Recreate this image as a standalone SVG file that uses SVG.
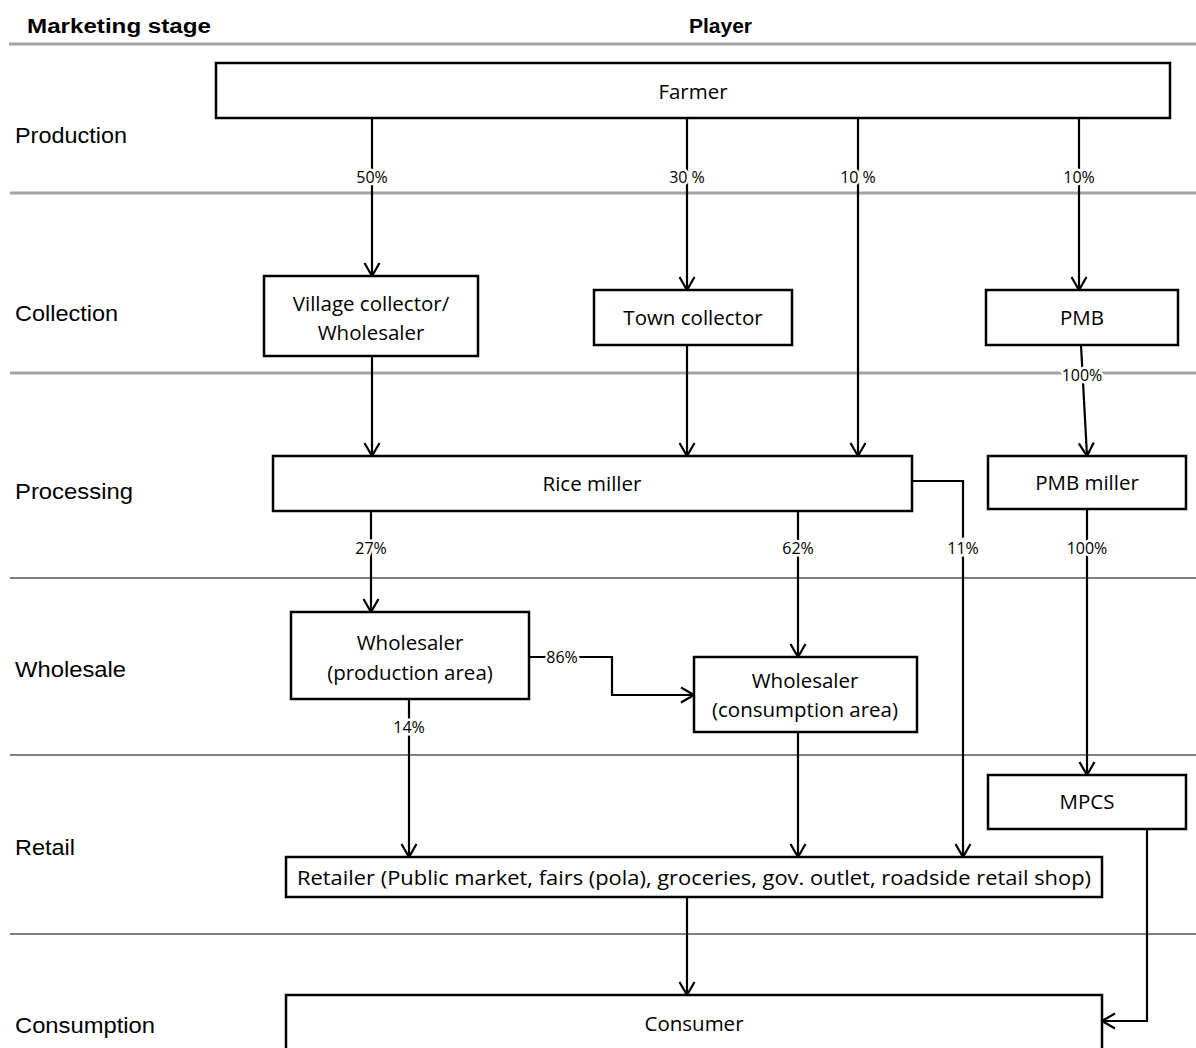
<svg xmlns="http://www.w3.org/2000/svg" width="1196" height="1048" viewBox="0 0 1196 1048">
  <defs>
    <marker id="arrow" markerUnits="userSpaceOnUse" markerWidth="20" markerHeight="20" refX="10" refY="10" orient="auto" overflow="visible">
      <path d="M -3 2.5 L 10 10 L -3 17.5" fill="none" stroke="#000" stroke-width="2.2"/>
    </marker>
  </defs>
  <style>
    .stage { font-family: "Liberation Sans", Arial, sans-serif; font-size: 22px; fill: #000; }
    .head { font-family: "Liberation Sans", Arial, sans-serif; font-size: 20px; font-weight: bold; fill: #000; }
    .box { fill: #fff; stroke: #000; stroke-width: 2.5; }
    .lbl { font-family: "Open Sans", "Liberation Sans", sans-serif; font-size: 20.5px; fill: #000; text-anchor: middle; }
    .pct { font-family: "Open Sans", "Liberation Sans", sans-serif; font-size: 16px; fill: #000; text-anchor: middle; stroke: #fff; stroke-width: 5; paint-order: stroke; }
    .sepA { stroke: #a3a3a3; stroke-width: 3; }
    .sepB { stroke: #808080; stroke-width: 2; }
    .conn { fill: none; stroke: #000; stroke-width: 2.2; }
  </style>
  <rect width="1196" height="1048" fill="#fff"/>

  <!-- header and stage bands -->
  <g id="stages">
    <text class="head" x="27" y="33" textLength="184" lengthAdjust="spacingAndGlyphs">Marketing stage</text>
    <text class="head" x="689" y="33" textLength="63" lengthAdjust="spacingAndGlyphs">Player</text>
    <line class="sepA" x1="9" y1="44" x2="1196" y2="44"/>
    <line class="sepA" x1="10" y1="193" x2="1196" y2="193"/>
    <line class="sepA" x1="10" y1="373" x2="1196" y2="373"/>
    <line class="sepB" x1="10" y1="578" x2="1196" y2="578"/>
    <line class="sepB" x1="10" y1="755" x2="1196" y2="755"/>
    <line class="sepB" x1="10" y1="934" x2="1196" y2="934"/>
    <text class="stage" x="15" y="143" textLength="112" lengthAdjust="spacingAndGlyphs">Production</text>
    <text class="stage" x="15" y="321" textLength="103" lengthAdjust="spacingAndGlyphs">Collection</text>
    <text class="stage" x="15" y="499" textLength="118" lengthAdjust="spacingAndGlyphs">Processing</text>
    <text class="stage" x="15" y="677" textLength="111" lengthAdjust="spacingAndGlyphs">Wholesale</text>
    <text class="stage" x="15" y="855" textLength="60" lengthAdjust="spacingAndGlyphs">Retail</text>
    <text class="stage" x="15" y="1033" textLength="140" lengthAdjust="spacingAndGlyphs">Consumption</text>
  </g>

  <!-- connectors -->
  <g id="connectors">
    <line class="conn" x1="372" y1="118" x2="372" y2="276" marker-end="url(#arrow)"/>
    <line class="conn" x1="687" y1="118" x2="687" y2="290" marker-end="url(#arrow)"/>
    <line class="conn" x1="858" y1="118" x2="858" y2="456" marker-end="url(#arrow)"/>
    <line class="conn" x1="1079" y1="118" x2="1079" y2="290" marker-end="url(#arrow)"/>
    <line class="conn" x1="372" y1="356" x2="372" y2="456" marker-end="url(#arrow)"/>
    <line class="conn" x1="687" y1="345" x2="687" y2="456" marker-end="url(#arrow)"/>
    <line class="conn" x1="1081" y1="345" x2="1087" y2="456" marker-end="url(#arrow)"/>
    <line class="conn" x1="371" y1="511" x2="371" y2="612" marker-end="url(#arrow)"/>
    <line class="conn" x1="798" y1="511" x2="798" y2="657" marker-end="url(#arrow)"/>
    <polyline class="conn" points="912,481 963,481 963,857" marker-end="url(#arrow)"/>
    <line class="conn" x1="1087" y1="509" x2="1087" y2="775" marker-end="url(#arrow)"/>
    <polyline class="conn" points="529,657 612,657 612,695 694,695" marker-end="url(#arrow)"/>
    <line class="conn" x1="409" y1="699" x2="409" y2="857" marker-end="url(#arrow)"/>
    <line class="conn" x1="798" y1="732" x2="798" y2="857" marker-end="url(#arrow)"/>
    <line class="conn" x1="687" y1="897" x2="687" y2="995" marker-end="url(#arrow)"/>
    <polyline class="conn" points="1147,829 1147,1021 1102,1021" marker-end="url(#arrow)"/>

    <text class="pct" x="372" y="183">50%</text>
    <text class="pct" x="687" y="183">30 %</text>
    <text class="pct" x="858" y="183">10 %</text>
    <text class="pct" x="1079" y="183">10%</text>
    <text class="pct" x="1082" y="381">100%</text>
    <text class="pct" x="371" y="554">27%</text>
    <text class="pct" x="798" y="554">62%</text>
    <text class="pct" x="963" y="554">11%</text>
    <text class="pct" x="1087" y="554">100%</text>
    <text class="pct" x="562" y="663">86%</text>
    <text class="pct" x="409" y="733">14%</text>
  </g>

  <!-- nodes -->
  <g id="farmer">
    <rect class="box" x="216" y="63" width="954" height="55"/>
    <text class="lbl" x="693" y="99">Farmer</text>
  </g>
  <g id="village-collector">
    <rect class="box" x="264" y="276" width="214" height="80"/>
    <text class="lbl" x="371" y="311">Village collector/</text>
    <text class="lbl" x="371" y="340">Wholesaler</text>
  </g>
  <g id="town-collector">
    <rect class="box" x="594" y="290" width="198" height="55"/>
    <text class="lbl" x="693" y="325">Town collector</text>
  </g>
  <g id="pmb">
    <rect class="box" x="986" y="290" width="192" height="55"/>
    <text class="lbl" x="1082" y="325">PMB</text>
  </g>
  <g id="rice-miller">
    <rect class="box" x="273" y="456" width="639" height="55"/>
    <text class="lbl" x="592" y="491">Rice miller</text>
  </g>
  <g id="pmb-miller">
    <rect class="box" x="988" y="456" width="198" height="53"/>
    <text class="lbl" x="1087" y="490">PMB miller</text>
  </g>
  <g id="wholesaler-production">
    <rect class="box" x="291" y="612" width="238" height="87"/>
    <text class="lbl" x="410" y="650">Wholesaler</text>
    <text class="lbl" x="410" y="680">(production area)</text>
  </g>
  <g id="wholesaler-consumption">
    <rect class="box" x="694" y="657" width="223" height="75"/>
    <text class="lbl" x="805" y="688">Wholesaler</text>
    <text class="lbl" x="805" y="717">(consumption area)</text>
  </g>
  <g id="mpcs">
    <rect class="box" x="988" y="775" width="198" height="54"/>
    <text class="lbl" x="1087" y="809">MPCS</text>
  </g>
  <g id="retailer">
    <rect class="box" x="286" y="857" width="816" height="40"/>
    <text class="lbl" x="694" y="885" textLength="794" lengthAdjust="spacingAndGlyphs">Retailer (Public market, fairs (pola), groceries, gov. outlet, roadside retail shop)</text>
  </g>
  <g id="consumer">
    <rect class="box" x="286" y="995" width="816" height="70"/>
    <text class="lbl" x="694" y="1031">Consumer</text>
  </g>
</svg>
